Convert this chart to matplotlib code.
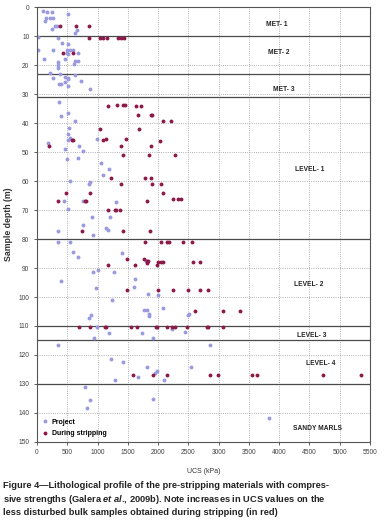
import matplotlib
matplotlib.use("Agg")
import matplotlib.pyplot as plt

plt.rcParams['font.family'] = ['Liberation Sans', 'DejaVu Sans']
plt.rcParams['mathtext.fontset'] = 'custom'
plt.rcParams['mathtext.it'] = 'Liberation Sans:italic:bold'
plt.rcParams['mathtext.rm'] = 'Liberation Sans:bold'

# Project samples (UCS kPa, depth m)
proj_ucs = [104, 160, 243, 518, 150, 220, 270, 138, 243, 298, 330, 628, 656, 20, 353, 408,
            12, 270, 518, 490, 540, 590, 490, 510, 683, 116, 353, 353, 342, 463, 628, 683,
            611, 223, 270, 380, 463, 518, 518, 628, 722, 370, 398, 463, 518, 876, 370, 397,
            518, 628, 529, 518, 518, 545, 177, 463, 700, 986, 766,
            501, 683, 1053, 1195, 1096, 545, 876, 865, 441, 766, 518, 1306, 1207, 904, 755,
            1141, 1168, 353, 353, 545, 921, 600, 683, 1400, 921, 1016, 1273, 397, 1620, 970,
            1603, 1830, 2005, 1234, 2088, 1774, 1813, 1802, 1857, 1857, 893, 865, 2490, 2510,
            986, 942, 1195, 1730, 1923, 2226, 2446, 2860, 353, 1223, 1427, 1813, 1950, 1978,
            1675, 2540, 1289, 2099, 793, 876, 821, 1923, 3835]
proj_depth = [1.3, 1.6, 1.6, 2.1, 3.8, 3.8, 3.6, 4.7, 7.6, 6.5, 6.3, 8.9, 7.7, 10.3, 10.5, 12.2,
              14.6, 14.8, 12.5, 14.8, 14.8, 14.8, 15.8, 16.2, 15.8, 17.9, 19.0, 20.0, 20.9, 17.7, 18.5, 18.5,
              19.6, 22.6, 24.4, 23.1, 24.0, 24.2, 24.8, 23.4, 25.4, 26.3, 26.3, 25.7, 27.1, 28.0, 32.7, 37.6,
              36.5, 39.3, 41.7, 43.6, 45.7, 45.2, 46.7, 48.8, 47.9, 45.5, 49.7,
              52.3, 52.0, 53.8, 55.7, 57.8, 60.0, 60.3, 60.9, 66.7, 66.7, 69.6, 67.3, 72.2, 72.2, 75.0,
              76.1, 76.7, 77.1, 80.9, 80.9, 78.6, 84.6, 86.3, 84.8, 91.2, 90.6, 91.2, 94.4, 93.8, 96.9,
              96.7, 99.0, 99.2, 101.0, 103.9, 104.4, 104.4, 87.4, 105.9, 106.5, 106.2, 107.1, 106.2, 105.8,
              110.3, 114.0, 112.5, 112.5, 114.2, 110.9, 112.2, 116.6, 116.5, 121.5, 122.3, 124.1, 126.1, 125.7,
              127.5, 124.0, 128.6, 128.7, 131.0, 135.5, 138.4, 135.3, 141.9]

# Samples taken during stripping
strip_ucs = [386, 645, 865, 865, 1041, 1096, 1152, 1344, 1383, 1438, 435, 600,
             1179, 1317, 1427, 1455, 1636, 1719, 1675, 1879, 1906, 2083, 2210, 1041, 1691,
             203, 573, 600, 1096, 1141, 1471, 1383, 1884, 2028, 1427, 1851, 2281,
             1223, 1785, 1884, 1383, 1906, 2050, 479, 876, 2077, 353, 793, 810, 1813, 2243, 2336, 2380,
             1179, 1289, 1306, 1372, 739, 1416, 1868, 1785, 2050, 2144, 2182, 2418, 2567,
             1482, 1769, 1813, 1840, 1824, 2005, 2050, 2077, 1978, 1179, 1620, 2573, 2690,
             1482, 1994, 2243, 2501, 2694, 2821, 2612, 3079, 3355,
             700, 876, 1124, 1141, 1549, 1658, 1967, 1990, 2144, 2226, 2281, 2470, 2815, 2832, 3079,
             1592, 1910, 2144, 2860, 2986, 3548, 3631, 4722, 5350]
strip_depth = [6.5, 6.5, 6.5, 10.5, 10.5, 10.5, 10.5, 10.5, 10.5, 10.5, 15.7, 15.7,
               34.0, 33.6, 33.6, 33.6, 34.0, 34.0, 37.0, 37.0, 37.0, 39.3, 39.3, 41.9, 41.9,
               47.9, 45.7, 45.9, 45.9, 45.5, 45.5, 47.9, 47.9, 46.0, 50.8, 50.8, 50.8,
               59.0, 59.0, 59.0, 60.9, 60.9, 60.9, 64.0, 64.0, 64.0, 66.9, 66.9, 66.9, 66.9, 66.1, 66.1, 66.1,
               70.1, 70.1, 70.1, 70.1, 77.1, 77.1, 77.1, 80.9, 80.9, 80.9, 80.9, 80.9, 80.9,
               86.9, 86.9, 87.6, 87.6, 88.3, 87.9, 87.9, 87.9, 88.9, 88.9, 88.9, 87.9, 87.9,
               97.6, 97.6, 97.6, 97.6, 97.6, 97.6, 105.0, 105.0, 105.0,
               110.2, 110.2, 110.2, 110.2, 110.2, 110.2, 110.2, 110.2, 110.2, 110.2, 110.2, 110.2, 110.2, 110.2, 110.2,
               127.1, 127.1, 127.1, 127.1, 127.1, 127.1, 127.1, 127.1, 127.1]

# layer boundaries and labels
boundaries = [10, 23, 31, 80, 110, 115, 130]
layer_names = ["MET- 1", "MET- 2", "MET- 3", "LEVEL- 1", "LEVEL- 2", "LEVEL- 3", "LEVEL- 4", "SANDY MARLS"]
layer_x = [3960, 3990, 4070, 4510, 4480, 4530, 4690, 4630]
layer_y = [6, 15.7, 28.3, 56, 95.8, 113.4, 122.8, 145.5]

caption = ("Figure 4\u2014Lithological profile of the pre-stripping materials with compres-\n"
           "sive strengths (Galera $\\it{et\\ al}$., 2009b). Note increases in UCS values on the\n"
           "less disturbed bulk samples obtained during stripping (in red)")

fig = plt.figure(figsize=(3.85, 5.31), dpi=100)
ax = fig.add_axes([0.096, 0.168, 0.865, 0.818])

ax.plot(proj_ucs, proj_depth, 'o', ms=2.8, color='#9a9ade', mec='none', label='Project')
ax.plot(strip_ucs, strip_depth, 'o', ms=2.8, color='#8c1a48', mec='none', label='During stripping')

for b in boundaries:
    ax.axhline(b, color='#4a4a4a', lw=0.9, zorder=1)
for name, x, y in zip(layer_names, layer_x, layer_y):
    ax.text(x, y, name, fontsize=4.8, fontweight='bold', ha='center', va='center', color='#222222')

ax.set_xlim(0, 5500)
ax.set_ylim(150, 0)
ax.set_xticks(range(0, 5501, 500))
ax.set_yticks(range(0, 151, 10))
ax.grid(True, ls=':', color='#999999', lw=0.6)
ax.set_axisbelow(True)
for s in ax.spines.values():
    s.set_color('#555555')
    s.set_linewidth(0.8)
ax.tick_params(labelsize=4.8, colors='#444444', length=2, width=0.6)
ax.set_xlabel('UCS (kPa)', fontsize=5, color='#333333', labelpad=8)
ax.set_ylabel('Sample depth (m)', fontsize=6.3, fontweight='bold', color='#333333', labelpad=4)

leg = ax.legend(loc='lower left', frameon=False, handlelength=0.8, handletextpad=0.6,
                borderaxespad=0.3, labelspacing=0.6, prop={'weight': 'bold', 'size': 5})

fig.text(0.008, 1 - 481 / 531, caption, fontsize=6.65, fontweight='bold', color='#222222',
         va='top', ha='left', linespacing=1.32)

fig.savefig('out.png', dpi=100)
